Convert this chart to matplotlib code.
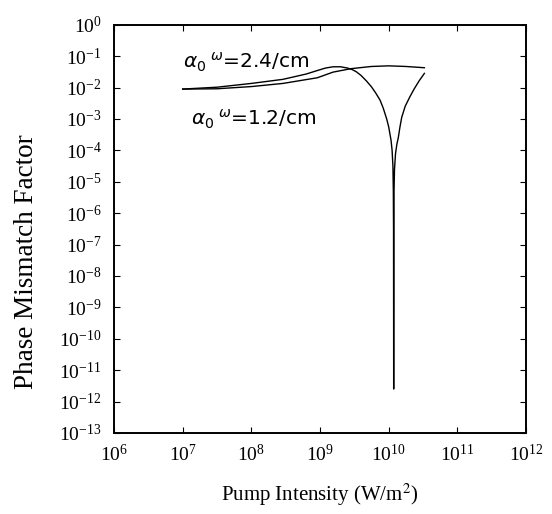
import numpy as np
import matplotlib
matplotlib.use("Agg")
import matplotlib.pyplot as plt
from matplotlib.ticker import LogLocator, NullLocator

plt.rcParams['font.family'] = ['Liberation Serif', 'DejaVu Serif']
plt.rcParams['mathtext.fontset'] = 'stix'

# Data (log10 exponents)
curve_dip_logx = [7.0, 7.5, 8.0, 8.46, 8.8, 8.96, 9.08, 9.19, 9.30, 9.40, 9.47, 9.53,
                  9.60, 9.68, 9.75, 9.81, 9.874, 9.92, 9.971, 10.00, 10.034, 10.05,
                  10.062, 10.068, 10.071, 10.073, 10.075, 10.078, 10.085, 10.10,
                  10.12, 10.14, 10.165, 10.19, 10.24, 10.31, 10.37, 10.44, 10.52]
curve_dip_logy = [-2.05, -1.99, -1.87, -1.74, -1.57, -1.46, -1.38, -1.34, -1.34, -1.38, -1.43, -1.50,
                  -1.62, -1.80, -1.98, -2.17, -2.40, -2.65, -3.0, -3.25, -3.67, -4.0,
                  -4.5, -5.3, -6.5, -11.6, -6.5, -5.3, -4.6, -4.1,
                  -3.8, -3.6, -3.25, -2.95, -2.6, -2.29, -2.05, -1.8, -1.55]
curve_flat_logx = [7.0, 7.5, 8.0, 8.46, 8.96, 9.19, 9.45, 9.75, 10.0, 10.25, 10.52]
curve_flat_logy = [-2.05, -2.04, -1.97, -1.87, -1.69, -1.51, -1.40, -1.33, -1.31, -1.33, -1.37]

label_upper = r'$\alpha_{0}{}^{\ \omega}$=2.4/cm'
label_lower = r'$\alpha_{0}{}^{\ \omega}$=1.2/cm'

x_dip = 10.0 ** np.array(curve_dip_logx)
y_dip = 10.0 ** np.array(curve_dip_logy)
x_flat = 10.0 ** np.array(curve_flat_logx)
y_flat = 10.0 ** np.array(curve_flat_logy)

fig = plt.figure(figsize=(5.52, 5.14), dpi=100)
ax = fig.add_axes([114/552, 1-433/514, (526-114)/552, (433-24.7)/514])

ax.plot(x_dip, y_dip, color='black', lw=1.0)
ax.plot(x_flat, y_flat, color='black', lw=1.0)

ax.set_xscale('log')
ax.set_yscale('log')
ax.set_xlim(1e6, 1e12)
ax.set_ylim(1e-13, 1e0)

ax.xaxis.set_major_locator(LogLocator(base=10, numticks=20))
ax.yaxis.set_major_locator(LogLocator(base=10, numticks=20))
ax.xaxis.set_minor_locator(NullLocator())
ax.yaxis.set_minor_locator(NullLocator())
ax.tick_params(which='major', direction='in', length=4.5, width=0.8,
               top=True, right=True, labelsize=14)
ax.tick_params(axis='y', pad=9)
ax.tick_params(axis='x', pad=8)

for s in ax.spines.values():
    s.set_linewidth(1.4)

ax.set_xlabel(r'Pump Intensity (W/m$^2$)', fontsize=15, labelpad=12)
ax.set_ylabel('Phase Mismatch Factor', fontsize=19.5)
ax.yaxis.set_label_coords(-0.182, 0.419)

ax.text(10**7.0, 10**-1.38, label_upper, fontsize=14.5, family='DejaVu Sans',
        math_fontfamily='dejavusans', va='baseline', ha='left')
ax.text(10**7.12, 10**-3.2, label_lower, fontsize=14.5, family='DejaVu Sans',
        math_fontfamily='dejavusans', va='baseline', ha='left')

fig.savefig('out.png', dpi=100)
